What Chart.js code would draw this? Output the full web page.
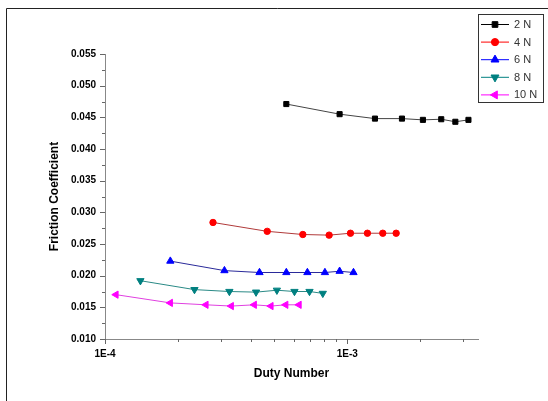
<!DOCTYPE html>
<html>
<head>
<meta charset="utf-8">
<script src="https://cdn.jsdelivr.net/npm/chart.js@4.4.1/dist/chart.umd.min.js"></script>
<style>
  html, body { margin: 0; padding: 0; background: #fff; }
  #wrap { position: relative; width: 548px; height: 401px; }
  canvas { display: block; }
</style>
</head>
<body>
<div id="wrap"><canvas id="c" width="548" height="401"></canvas></div>
<script>
// ---- data ----
const loads = ['2 N', '4 N', '6 N', '8 N', '10 N'];
const duty2  = [5.60e-4, 9.29e-4, 1.30e-3, 1.68e-3, 2.05e-3, 2.44e-3, 2.79e-3, 3.16e-3];
const fric2  = [0.0471, 0.0455, 0.0448, 0.0448, 0.0446, 0.0447, 0.0443, 0.0446];
const duty4  = [2.79e-4, 4.67e-4, 6.55e-4, 8.41e-4, 1.03e-3, 1.21e-3, 1.40e-3, 1.59e-3];
const fric4  = [0.0284, 0.0270, 0.0265, 0.0264, 0.0267, 0.0267, 0.0267, 0.0267];
const duty6  = [1.86e-4, 3.11e-4, 4.34e-4, 5.60e-4, 6.84e-4, 8.08e-4, 9.29e-4, 1.06e-3];
const fric6  = [0.0223, 0.0208, 0.0205, 0.0205, 0.0205, 0.0205, 0.0207, 0.0205];
const duty8  = [1.40e-4, 2.34e-4, 3.26e-4, 4.20e-4, 5.12e-4, 6.05e-4, 6.98e-4, 7.92e-4];
const fric8  = [0.0192, 0.0178, 0.0175, 0.0174, 0.0177, 0.0175, 0.0175, 0.0172];
const duty10 = [1.11e-4, 1.86e-4, 2.61e-4, 3.32e-4, 4.13e-4, 4.84e-4, 5.57e-4, 6.32e-4];
const fric10 = [0.0170, 0.0157, 0.0154, 0.0152, 0.0154, 0.0152, 0.0154, 0.0154];

const xTickValues = [1e-4, 2e-4, 3e-4, 4e-4, 5e-4, 6e-4, 7e-4, 8e-4, 9e-4, 1e-3, 2e-3, 3e-3];
const xMajorLabels = { '0.0001': '1E-4', '0.001': '1E-3' };
const yMajorTicks = [0.010, 0.015, 0.020, 0.025, 0.030, 0.035, 0.040, 0.045, 0.050, 0.055];
const yMinorTicks = [0.0125, 0.0175, 0.0225, 0.0275, 0.0325, 0.0375, 0.0425, 0.0475, 0.0525];

const xTitle = 'Duty Number';
const yTitle = 'Friction Coefficient';

function pts(xs, ys) { return xs.map((x, i) => ({ x: x, y: ys[i] })); }

const styles = [
  { line: '#444444', fill: '#000000', pointStyle: 'rect', radius: 3.6, rotation: 0 },
  { line: '#b03a3a', fill: '#ff0000', pointStyle: 'circle', radius: 3.2, rotation: 0 },
  { line: '#2a2a9a', fill: '#0000ff', pointStyle: 'triangle', radius: 4.2, rotation: 0 },
  { line: '#2a8a86', fill: '#008080', pointStyle: 'triangle', radius: 4.2, rotation: 180 },
  { line: '#e040e0', fill: '#ff00ff', pointStyle: 'triangle', radius: 4.2, rotation: -90 }
];
const series = [[duty2, fric2], [duty4, fric4], [duty6, fric6], [duty8, fric8], [duty10, fric10]];

const datasets = series.map((s, i) => ({
  label: loads[i],
  data: pts(s[0], s[1]),
  showLine: true,
  borderColor: styles[i].line,
  borderWidth: 1,
  pointStyle: styles[i].pointStyle,
  pointRotation: styles[i].rotation,
  pointRadius: styles[i].radius,
  pointHoverRadius: styles[i].radius,
  pointBackgroundColor: styles[i].fill,
  pointBorderColor: styles[i].fill,
  pointBorderWidth: 1,
  tension: 0
}));

const decor = {
  id: 'decor',
  beforeDraw(chart) {
    const ctx = chart.ctx;
    ctx.save();
    ctx.strokeStyle = '#222';
    ctx.lineWidth = 1;
    ctx.beginPath();
    ctx.moveTo(6.5, 401);
    ctx.lineTo(6.5, 8.5);
    ctx.lineTo(548, 8.5);
    ctx.stroke();
    ctx.restore();
  },
  afterDraw(chart) {
    const ctx = chart.ctx;
    const xs = chart.scales.x, ys = chart.scales.y;
    const ca = chart.chartArea;
    ctx.save();
    ctx.strokeStyle = '#666';
    ctx.lineWidth = 1;
    ctx.beginPath();
    yMajorTicks.forEach(v => {
      const y = Math.round(ys.getPixelForValue(v)) + 0.5;
      ctx.moveTo(ca.left - 5, y); ctx.lineTo(ca.left, y);
    });
    yMinorTicks.forEach(v => {
      const y = Math.round(ys.getPixelForValue(v)) + 0.5;
      ctx.moveTo(ca.left - 3, y); ctx.lineTo(ca.left, y);
    });
    xTickValues.forEach(v => {
      const x = Math.round(xs.getPixelForValue(v)) + 0.5;
      const major = (v === 1e-4 || v === 1e-3);
      ctx.moveTo(x, ca.bottom); ctx.lineTo(x, ca.bottom + (major ? 5 : 3));
    });
    ctx.stroke();

    // legend
    const bx = 478.5, by = 14.5, bw = 65, bh = 88;
    ctx.fillStyle = '#fff';
    ctx.fillRect(bx, by, bw, bh);
    ctx.strokeStyle = '#333';
    ctx.strokeRect(bx, by, bw, bh);
    chart.data.datasets.forEach((ds, i) => {
      const y = 24.5 + i * 17.6;
      ctx.strokeStyle = ds.pointBackgroundColor;
      ctx.lineWidth = 1;
      ctx.beginPath();
      ctx.moveTo(481, y); ctx.lineTo(509, y);
      ctx.stroke();
      ctx.fillStyle = ds.pointBackgroundColor;
      ctx.strokeStyle = ds.pointBackgroundColor;
      Chart.helpers.drawPoint(ctx, {
        pointStyle: ds.pointStyle, rotation: ds.pointRotation, radius: ds.pointRadius + 0.4, borderWidth: 1
      }, 495, y);
      ctx.fillStyle = '#333';
      ctx.font = '11px Arial, "Liberation Sans"';
      ctx.textBaseline = 'middle';
      ctx.textAlign = 'left';
      ctx.fillText(ds.label, 514, y + 0.5);
    });
    ctx.restore();
  }
};

new Chart(document.getElementById('c'), {
  type: 'scatter',
  data: { datasets: datasets },
  plugins: [decor],
  options: {
    responsive: false,
    animation: false,
    events: [],
    layout: { padding: { left: 0, right: 70, top: 54, bottom: 0 } },
    plugins: { legend: { display: false }, tooltip: { enabled: false } },
    scales: {
      x: {
        type: 'logarithmic',
        min: 1e-4,
        max: 3.46e-3,
        afterBuildTicks: (scale) => { scale.ticks = xTickValues.map(v => ({ value: v })); },
        afterFit: (scale) => { scale.height = 62; },
        grid: { display: true, drawOnChartArea: false, drawTicks: false },
        border: { display: true, color: '#888', width: 1 },
        ticks: {
          autoSkip: false, maxRotation: 0, minRotation: 0, padding: 9,
          color: '#000', font: { family: 'Arial, "Liberation Sans"', size: 10, weight: 'bold' },
          callback: (v) => xMajorLabels[String(v)] || ''
        },
        title: {
          display: true, text: xTitle, color: '#000',
          font: { family: 'Arial, "Liberation Sans"', size: 12, weight: 'bold' },
          padding: { top: 0, bottom: 20 }
        }
      },
      y: {
        type: 'linear',
        min: 0.010,
        max: 0.055,
        afterBuildTicks: (scale) => { scale.ticks = yMajorTicks.map(v => ({ value: v })); },
        afterFit: (scale) => { scale.width = 105; },
        grid: { display: true, drawOnChartArea: false, drawTicks: false },
        border: { display: true, color: '#888', width: 1 },
        ticks: {
          padding: 9, color: '#000',
          font: { family: 'Arial, "Liberation Sans"', size: 10, weight: 'bold' },
          callback: (v) => Number(v).toFixed(3)
        },
        title: {
          display: true, text: yTitle, color: '#000',
          font: { family: 'Arial, "Liberation Sans"', size: 12, weight: 'bold' },
          padding: { top: 47, bottom: 0 }
        }
      }
    }
  }
});
</script>
</body>
</html>
